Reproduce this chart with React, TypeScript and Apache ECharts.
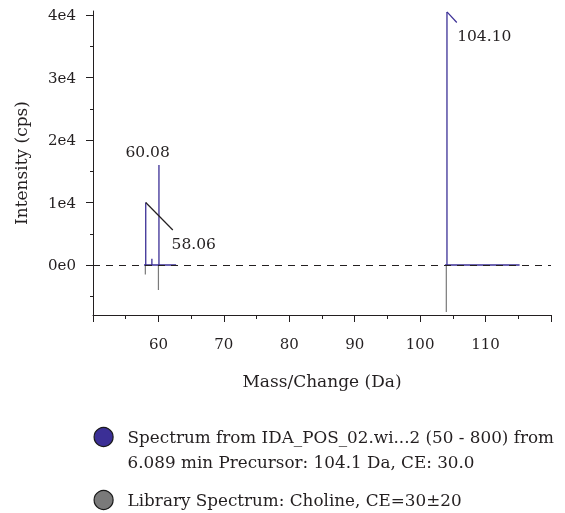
import React, { useEffect, useRef } from "react";
import * as echarts from "echarts";

// ---- data ----
const spectrumName =
  "Spectrum from IDA_POS_02.wi...2 (50 - 800) from 6.089 min Precursor: 104.1 Da, CE: 30.0";
const libraryName = "Library Spectrum: Choline, CE=30±20";

// measured spectrum peaks (m/z, intensity cps)
const peakMz = [58.06, 59.0, 60.08, 104.1];
const peakIntensity = [10000, 1000, 16000, 40500];
// baseline segments of the measured spectrum [start, end] m/z
const baselineStart = [57.8, 103.8];
const baselineEnd = [62.7, 115.2];

// library spectrum (drawn downward)
const libMz = [58.0, 60.0, 104.0];
const libIntensity = [-1500, -4000, -7500];

// annotations
const annotationText = ["60.08", "58.06", "104.10"];
const annotationMz = [58.35, 65.4, 109.8];
const annotationIntensity = [18080, 3440, 36670];
const leaderFrom = [
  [58.06, 10000],
  [104.1, 40500],
];
const leaderTo = [
  [62.2, 5600],
  [105.6, 38800],
];

// axes
const xTicks = [50, 60, 70, 80, 90, 100, 110, 120];
const yMajorTicks = [0, 10000, 20000, 30000, 40000];
const yMinorTicks = [-5000, 5000, 15000, 25000, 35000];

const BLUE = "#3b2f96";
const GRAY = "#7a7a7a";
const INK = "#231f20";
const FONT = "DejaVu Serif";

function buildSegment(start: number, end: number) {
  const pts: number[][] = [[start, 0]];
  peakMz.forEach((mz, i) => {
    if (mz >= start && mz <= end) {
      pts.push([mz, 0], [mz, peakIntensity[i]], [mz, 0]);
    }
  });
  pts.push([end, 0]);
  return pts;
}

export default function App() {
  const ref = useRef<HTMLDivElement>(null);
  useEffect(() => {
    if (!ref.current) return;
    const chart = echarts.init(ref.current, undefined, { renderer: "svg" });

    const spectrumSeries = baselineStart.map((s, i) => ({
      name: spectrumName,
      type: "line",
      data: buildSegment(s, baselineEnd[i]),
      showSymbol: false,
      symbol: "none",
      lineStyle: { color: BLUE, width: 1.3 },
      itemStyle: { color: BLUE },
      silent: true,
      z: 3,
    }));

    const librarySeries = libMz.map((mz, i) => ({
      name: libraryName,
      type: "line",
      data: [
        [mz, 0],
        [mz, libIntensity[i]],
      ],
      showSymbol: false,
      symbol: "none",
      lineStyle: { color: GRAY, width: 1.2 },
      itemStyle: { color: GRAY },
      silent: true,
      z: 2,
    }));

    const annotationSeries = {
      type: "line",
      data: [],
      silent: true,
      markLine: {
        silent: true,
        symbol: "none",
        label: { show: false },
        data: [
          { yAxis: 0, lineStyle: { color: INK, type: [7, 6], width: 1.2 } },
          [
            { coord: leaderFrom[0], lineStyle: { color: INK, type: "solid", width: 1.2 } },
            { coord: leaderTo[0] },
          ],
          [
            { coord: leaderFrom[1], lineStyle: { color: BLUE, type: "solid", width: 1.2 } },
            { coord: leaderTo[1] },
          ],
        ],
      },
      markPoint: {
        silent: true,
        symbol: "rect",
        symbolSize: [1, 1],
        itemStyle: { color: "transparent" },
        label: {
          show: true,
          position: "inside",
          color: INK,
          fontFamily: FONT,
          fontSize: 15.5,
        },
        data: annotationText.map((t, i) => ({
          coord: [annotationMz[i], annotationIntensity[i]],
          value: t,
          label: { formatter: t },
        })),
      },
    };

    chart.setOption({
      animation: false,
      textStyle: { fontFamily: FONT, color: INK },
      grid: { left: 93, right: 14, top: 11, bottom: 198, containLabel: false },
      legend: {
        orient: "vertical",
        left: 88.5,
        top: 394.5,
        itemWidth: 38,
        itemHeight: 19,
        itemGap: 13,
        icon: "circle",
        data: [spectrumName, libraryName],
        itemStyle: { borderColor: "#1a1a1a", borderWidth: 1.2 },
        textStyle: {
          fontFamily: FONT,
          fontSize: 16.8,
          color: INK,
          lineHeight: 25,
        },
        formatter: (name: string) =>
          name === spectrumName
            ? "\nSpectrum from IDA_POS_02.wi...2 (50 - 800) from\n6.089 min Precursor: 104.1 Da, CE: 30.0"
            : name,
        selectedMode: false,
      },
      xAxis: {
        type: "value",
        min: xTicks[0],
        max: xTicks[xTicks.length - 1],
        interval: 10,
        name: "Mass/Change (Da)",
        nameLocation: "middle",
        nameGap: 57,
        nameTextStyle: { fontFamily: FONT, fontSize: 17, color: INK },
        axisLine: { onZero: false, lineStyle: { color: INK, width: 1 } },
        axisTick: { show: true, length: 7, lineStyle: { color: INK } },
        minorTick: { show: true, splitNumber: 2, length: 4, lineStyle: { color: INK } },
        axisLabel: {
          margin: 21,
          fontFamily: FONT,
          fontSize: 15,
          color: INK,
          showMinLabel: false,
          showMaxLabel: false,
        },
        splitLine: { show: false },
        minorSplitLine: { show: false },
      },
      yAxis: [
        {
          type: "value",
          min: -8000,
          max: 40640,
          name: "Intensity (cps)",
          nameLocation: "middle",
          nameGap: 64,
          nameTextStyle: { fontFamily: FONT, fontSize: 17, color: INK },
          axisLine: { show: true, onZero: false, lineStyle: { color: INK, width: 1 } },
          axisTick: { show: true, length: 7, customValues: yMajorTicks, lineStyle: { color: INK } },
          axisLabel: {
            margin: 17,
            fontFamily: FONT,
            fontSize: 15,
            color: INK,
            customValues: yMajorTicks,
            formatter: (v: number) => (v === 0 ? "0e0" : `${Math.round(v / 10000)}e4`),
          },
          splitLine: { show: false },
        },
        {
          type: "value",
          min: -8000,
          max: 40640,
          position: "left",
          axisLine: { show: false, onZero: false },
          axisTick: { show: true, length: 3, customValues: yMinorTicks, lineStyle: { color: INK } },
          axisLabel: { show: false },
          splitLine: { show: false },
        },
      ],
      series: [...spectrumSeries, ...librarySeries, annotationSeries],
    });
    return () => chart.dispose();
  }, []);
  return (
    <div
      ref={ref}
      style={{ position: "fixed", left: 0, top: 0, width: 565, height: 513 }}
    />
  );
}
